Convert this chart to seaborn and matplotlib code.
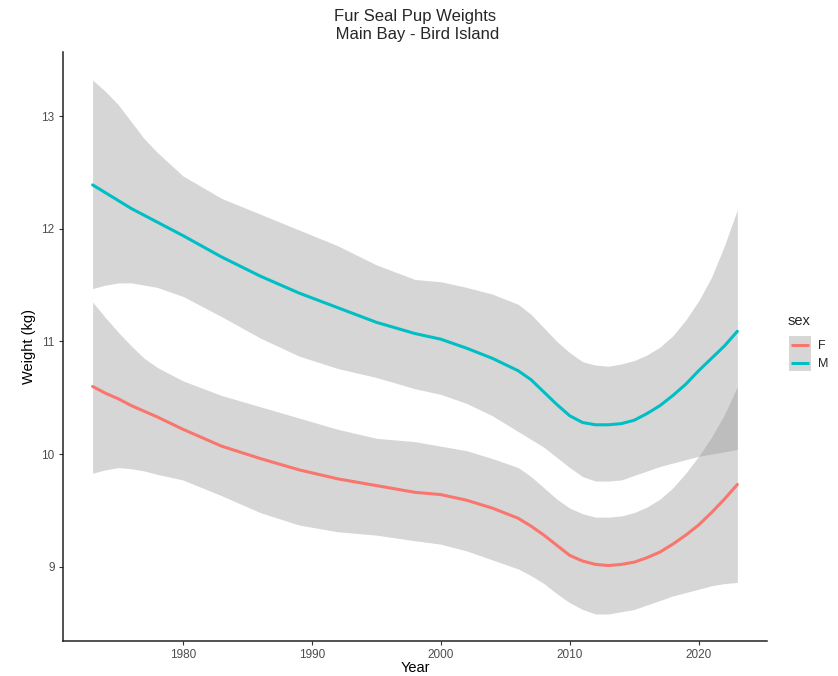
import numpy as np
import pandas as pd
import matplotlib
matplotlib.use("Agg")
import matplotlib.pyplot as plt
import seaborn as sns
from matplotlib.patches import Rectangle
from matplotlib.lines import Line2D
from matplotlib.legend_handler import HandlerBase

years = [1973, 1974, 1975, 1976, 1977, 1978, 1980, 1983, 1986, 1989, 1992, 1995, 1998, 2000,
         2002, 2004, 2006, 2007, 2008, 2009, 2010, 2011, 2012, 2013, 2014, 2015, 2016,
         2017, 2018, 2019, 2020, 2021, 2022, 2023]

m_fit = [12.39, 12.32, 12.25, 12.18, 12.12, 12.06, 11.94, 11.75, 11.58, 11.43, 11.30, 11.17,
         11.07, 11.02, 10.94, 10.85, 10.74, 10.66, 10.55, 10.44, 10.34, 10.28, 10.26, 10.26,
         10.27, 10.30, 10.36, 10.43, 10.52, 10.62, 10.74, 10.85, 10.96, 11.09]
m_upper = [13.32, 13.22, 13.10, 12.95, 12.80, 12.68, 12.47, 12.27, 12.13, 11.99, 11.85, 11.68,
           11.55, 11.53, 11.48, 11.42, 11.33, 11.24, 11.12, 11.00, 10.90, 10.82, 10.79, 10.78,
           10.80, 10.83, 10.88, 10.95, 11.05, 11.19, 11.36, 11.57, 11.85, 12.17]
m_lower = [11.47, 11.50, 11.52, 11.52, 11.50, 11.48, 11.40, 11.22, 11.03, 10.87, 10.76, 10.68,
           10.58, 10.53, 10.45, 10.34, 10.20, 10.13, 10.06, 9.97, 9.88, 9.80, 9.76, 9.76,
           9.77, 9.81, 9.85, 9.89, 9.92, 9.95, 9.98, 10.00, 10.02, 10.04]

f_fit = [10.60, 10.54, 10.49, 10.43, 10.38, 10.33, 10.22, 10.07, 9.96, 9.86, 9.78, 9.72,
         9.66, 9.64, 9.59, 9.52, 9.43, 9.36, 9.28, 9.19, 9.10, 9.05, 9.02, 9.01,
         9.02, 9.04, 9.08, 9.13, 9.20, 9.28, 9.37, 9.48, 9.60, 9.73]
f_upper = [11.35, 11.21, 11.08, 10.96, 10.85, 10.77, 10.65, 10.52, 10.42, 10.32, 10.22, 10.14,
           10.11, 10.07, 10.03, 9.96, 9.88, 9.80, 9.70, 9.60, 9.52, 9.47, 9.44, 9.44,
           9.45, 9.48, 9.53, 9.60, 9.70, 9.83, 9.98, 10.15, 10.35, 10.60]
f_lower = [9.83, 9.86, 9.88, 9.87, 9.85, 9.82, 9.77, 9.63, 9.48, 9.37, 9.31, 9.28,
           9.23, 9.20, 9.14, 9.06, 8.98, 8.92, 8.85, 8.76, 8.68, 8.62, 8.58, 8.58,
           8.60, 8.62, 8.66, 8.70, 8.74, 8.77, 8.80, 8.83, 8.85, 8.86]

sexes = ["F", "M"]
palette = {"F": "#F8766D", "M": "#00BFC4"}
x_ticks = [1980, 1990, 2000, 2010, 2020]
y_ticks = [9, 10, 11, 12, 13]

df = pd.concat([
    pd.DataFrame({"Year": years, "Weight": f_fit, "lo": f_lower, "hi": f_upper, "sex": "F"}),
    pd.DataFrame({"Year": years, "Weight": m_fit, "lo": m_lower, "hi": m_upper, "sex": "M"}),
], ignore_index=True)

sns.set_style("white")
plt.rcParams["font.family"] = ["Liberation Sans", "DejaVu Sans"]

fig = plt.figure(figsize=(8.38, 6.76), dpi=100)
ax = fig.add_axes([63/838, 1 - 641/676, (767 - 63)/838, (641 - 52)/676])

for s in sexes:
    d = df[df["sex"] == s]
    ax.fill_between(d["Year"], d["lo"], d["hi"], color="#999999", alpha=0.4, linewidth=0, zorder=1)

sns.lineplot(data=df, x="Year", y="Weight", hue="sex", palette=palette,
             hue_order=sexes, linewidth=2.2, ax=ax, legend=False, zorder=3)

ax.set_xlim(1970.7, 2025.3)
ax.set_ylim(8.34, 13.57)
ax.set_xticks(x_ticks)
ax.set_yticks(y_ticks)
ax.tick_params(axis="both", bottom=True, left=True, length=3, width=0.8, color="#333333",
               labelcolor="#4D4D4D", labelsize=8.5, direction="out", pad=3)
for side in ["top", "right"]:
    ax.spines[side].set_visible(False)
for side in ["left", "bottom"]:
    ax.spines[side].set_color("#222222")
    ax.spines[side].set_linewidth(1.1)
ax.set_xlabel("Year", fontsize=10.5, labelpad=0, color="black")
ax.set_ylabel("Weight (kg)", fontsize=10.5, labelpad=4, color="black")

fig.text(415/838, 1 - 17/676, "Fur Seal Pup Weights", ha="center", va="center", fontsize=12)
fig.text(415/838, 1 - 35/676, " Main Bay - Bird Island", ha="center", va="center", fontsize=12)


class KeyHandler(HandlerBase):
    def create_artists(self, legend, orig_handle, xdescent, ydescent, width, height,
                       fontsize, trans):
        x0, y0 = -xdescent, -ydescent
        rect = Rectangle((x0, y0), width, height, facecolor="#D6D6D6",
                         edgecolor="none", transform=trans)
        pad = width * 0.1
        yc = y0 + height / 2
        line = Line2D([x0 + pad, x0 + width - pad], [yc, yc], color=orig_handle.get_color(),
                      lw=2.2, transform=trans, solid_capstyle="butt")
        return [rect, line]


fig.text(788/838, 1 - 321/676, "sex", ha="left", va="center", fontsize=10.5)
handles = [Line2D([0], [0], color=palette[s], lw=2.2) for s in sexes]
leg = fig.legend(handles, sexes, loc="upper left",
                 bbox_to_anchor=(789/838, 1 - 336/676), frameon=False,
                 handler_map={Line2D: KeyHandler()},
                 handlelength=1.76, handleheight=1.8, handletextpad=0.56,
                 labelspacing=0.0, fontsize=9,
                 borderaxespad=0, borderpad=0)

fig.savefig("out.png", dpi=100)
